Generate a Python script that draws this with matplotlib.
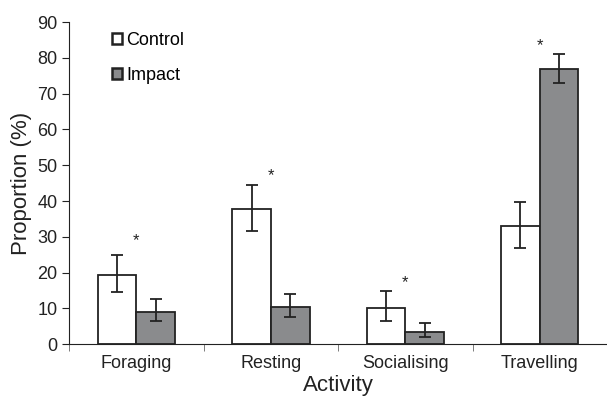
import numpy as np
import matplotlib
matplotlib.use("Agg")
import matplotlib.pyplot as plt
from matplotlib.patches import Patch

plt.rcParams['font.family'] = ['Liberation Sans', 'DejaVu Sans']

# Datos
actividades = ["Foraging", "Resting", "Socialising", "Travelling"]
control = [19.2, 37.8, 10.0, 33.0]
control_bajo = [14.5, 31.5, 6.5, 27.0]
control_alto = [25.0, 44.5, 14.8, 39.7]
impacto = [9.0, 10.3, 3.5, 77.0]
impacto_bajo = [6.5, 7.5, 2.0, 73.0]
impacto_alto = [12.5, 14.0, 6.0, 81.0]
asterisco_y = [29.0, 47.0, 17.3, 83.5]

x = np.arange(len(actividades))
ancho = 0.288

fig = plt.figure(figsize=(6.07, 3.96), dpi=100)
ax = fig.add_axes([0.114, 0.131, 0.886, 0.813])

err_c = [np.array(control) - np.array(control_bajo), np.array(control_alto) - np.array(control)]
err_i = [np.array(impacto) - np.array(impacto_bajo), np.array(impacto_alto) - np.array(impacto)]

ax.bar(x - ancho / 2, control, ancho, color="white", edgecolor="#222222", linewidth=1.3,
       yerr=err_c, error_kw=dict(ecolor="#222222", elinewidth=1.3, capsize=4, capthick=1.3))
ax.bar(x + ancho / 2, impacto, ancho, color="#8a8b8d", edgecolor="#222222", linewidth=1.3,
       yerr=err_i, error_kw=dict(ecolor="#222222", elinewidth=1.3, capsize=4, capthick=1.3))

for xi, yi in zip(x, asterisco_y):
    ax.text(xi, yi, "*", ha="center", va="center", fontsize=12, color="#222222")

ax.set_xlim(-0.5, 3.5)
ax.set_ylim(0, 90)
ax.set_yticks(range(0, 91, 10))
ax.set_xticks(x)
ax.set_xticklabels(actividades)
ax.set_xticks(np.arange(-0.5, 4.0, 1.0), minor=True)
ax.tick_params(axis="x", which="major", length=0, labelsize=13, pad=8, colors="#222222")
ax.tick_params(axis="x", which="minor", length=5, direction="out", color="#666666")
ax.tick_params(axis="y", length=5, direction="out", labelsize=13, colors="#222222")

for lado in ["top", "right"]:
    ax.spines[lado].set_visible(False)
ax.spines["left"].set_color("#222222")
ax.spines["bottom"].set_color("#222222")

ax.set_xlabel("Activity", fontsize=16, labelpad=2, color="#222222")
ax.set_ylabel("Proportion (%)", fontsize=16, labelpad=4, color="#222222")

manejadores = [Patch(facecolor="white", edgecolor="#222222", linewidth=1.8),
               Patch(facecolor="#8a8b8d", edgecolor="#222222", linewidth=1.8)]
ax.legend(manejadores, ["Control", "Impact"], loc="upper left", bbox_to_anchor=(0.05, 1.02),
          frameon=False, fontsize=13, handlelength=0.55, handleheight=0.55, handletextpad=0.2,
          labelspacing=1.0)

fig.savefig("out.png", dpi=100)
